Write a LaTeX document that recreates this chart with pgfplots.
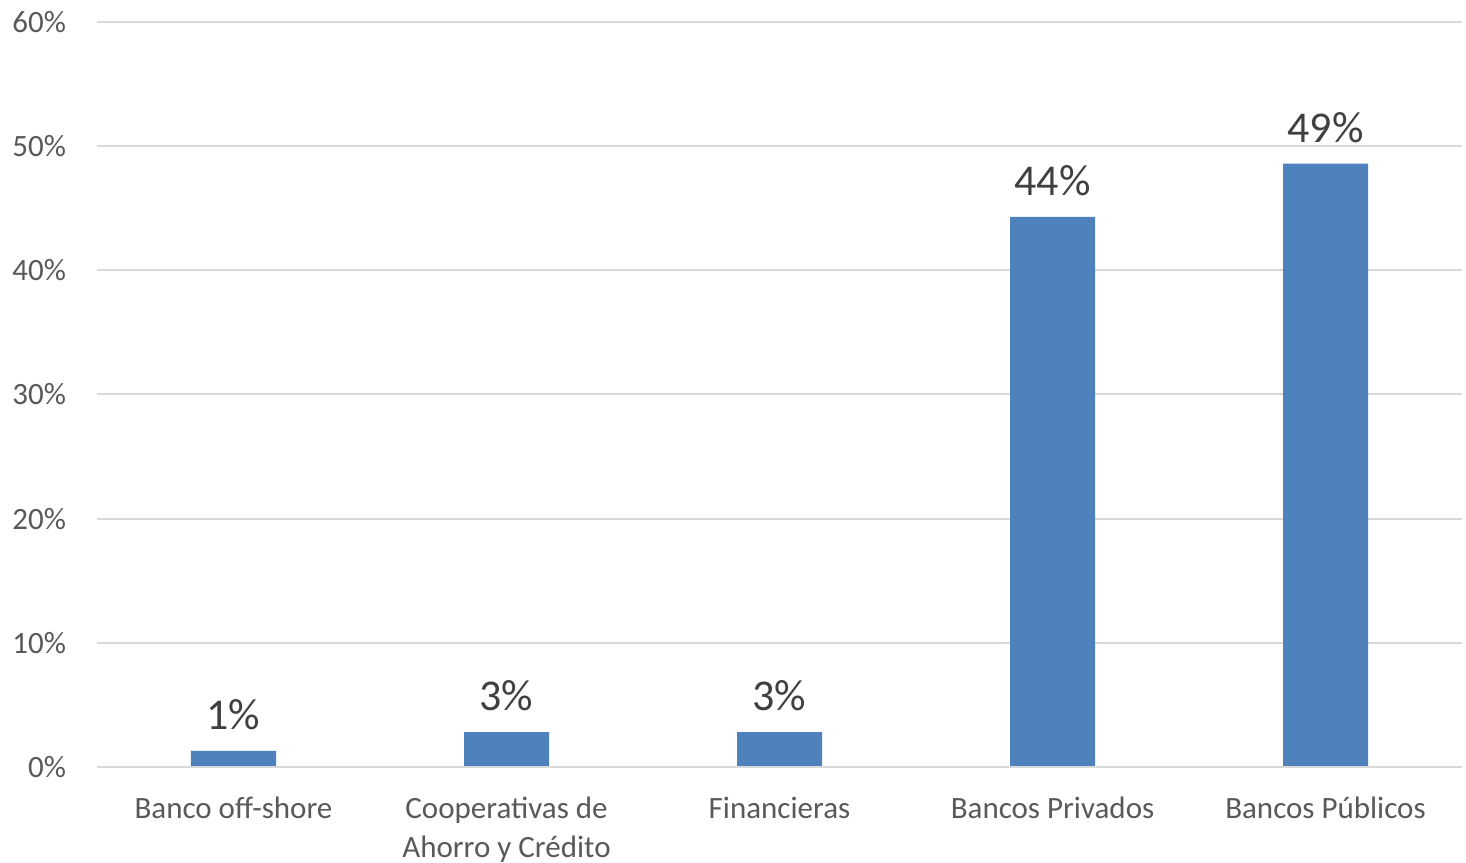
\documentclass[border=0pt]{standalone}
\usepackage{fontspec}
\setmainfont{Carlito}
\usepackage{pgfplots}
\pgfplotsset{compat=1.18}
\definecolor{barblue}{RGB}{79,129,189}
\definecolor{gridgray}{RGB}{217,217,217}
\definecolor{ticktext}{RGB}{89,89,89}
\definecolor{labeltext}{RGB}{64,64,64}

\begin{document}
\begin{tikzpicture}
\begin{axis}[
    scale only axis,
    width=682.5pt,
    height=372.5pt,
    ybar,
    bar width=42.5pt,
    xmin=-0.5, xmax=4.5,
    ymin=0, ymax=60,
    xtick=data,
    xticklabels={Banco off-shore, {Cooperativas de\\Ahorro y Crédito}, Financieras, Bancos Privados, Bancos Públicos},
    ytick={0,10,...,60},
    yticklabel={\pgfmathprintnumber{\tick}\%},
    /pgf/number format/assume math mode=true,
    axis line style={draw=none},
    major tick length=0pt,
    ymajorgrids,
    grid style={gridgray, line width=1pt},
    tick label style={font=\fontsize{15.5}{19.5}\selectfont, text=ticktext},
    xticklabel style={align=center, anchor=north, yshift=-11.5pt},
    yticklabel style={anchor=east, xshift=-12pt},
    nodes near coords={\pgfmathprintnumber[fixed,precision=0]{\pgfplotspointmeta}\%},
    every node near coord/.append style={font=\fontsize{22}{26}\selectfont, text=labeltext, anchor=south, yshift=7pt},
]
\addplot[fill=barblue, draw=none] coordinates {
    (0, 1.3)
    (1, 2.8)
    (2, 2.8)
    (3, 44.3)
    (4, 48.6)
};
\draw[gridgray, line width=1.2pt] (axis cs:-0.5,0) -- (axis cs:4.5,0);
\end{axis}
\pgfresetboundingbox
\useasboundingbox ([xshift=-48.5pt,yshift=-48pt]current axis.south west) rectangle ([xshift=2pt,yshift=11pt]current axis.north east);
\end{tikzpicture}
\end{document}
